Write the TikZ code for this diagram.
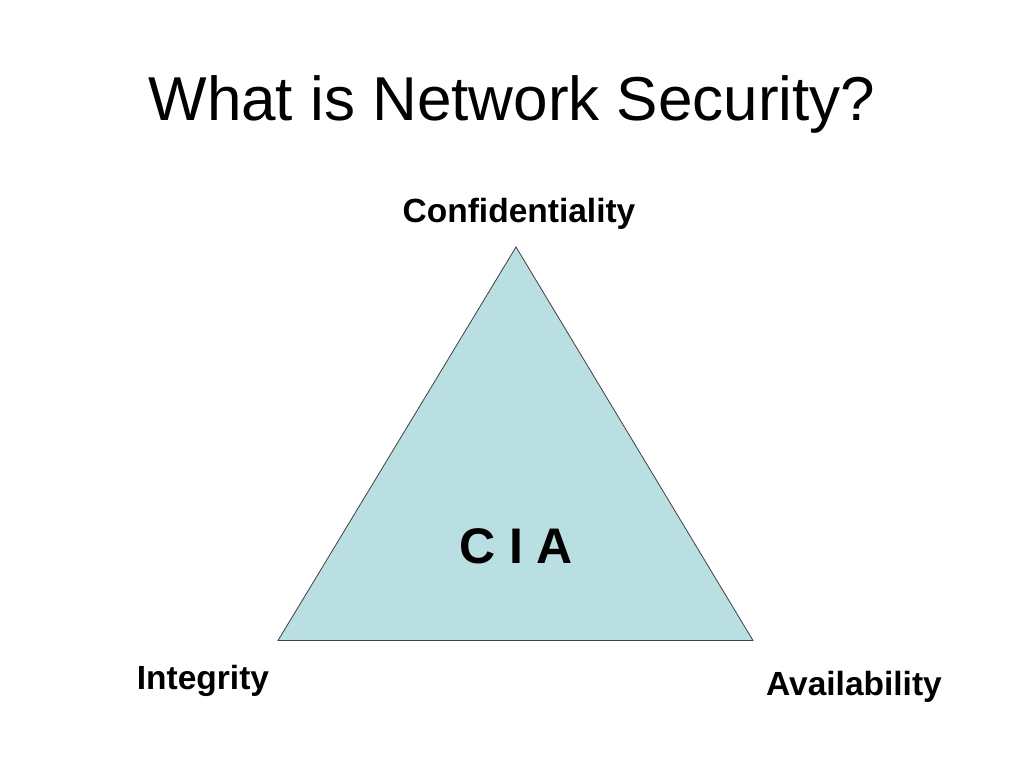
\documentclass[tikz,border=0pt]{standalone}
\usepackage{fontspec}
\setmainfont{Liberation Sans}
\definecolor{trifill}{HTML}{BADFE3}
\begin{document}
\begin{tikzpicture}[x=1pt,y=-1pt,
  lab/.style={font=\fontsize{33.5}{40}\selectfont\bfseries, anchor=base, inner sep=0pt}]
\useasboundingbox (0,0) rectangle (1024,768);
\fill[white] (0,0) rectangle (1024,768);
\node[anchor=base, inner sep=0pt, font=\fontsize{62}{70}\selectfont] (title) at (512,120) {What is Network Security?};
\coordinate (top) at (516,247);
\coordinate (bl) at (278,640.5);
\coordinate (br) at (753,640.5);
\draw[fill=trifill, draw=black!75, line width=0.8pt] (top) -- (bl) -- (br) -- cycle;
\node[anchor=base, inner sep=0pt, font=\fontsize{50}{60}\selectfont\bfseries] (cia) at (516,563) {C I A};
\node[lab] (conf) at (519,222) {Confidentiality};
\node[lab] (integ) at (203,689) {Integrity};
\node[lab] (avail) at (854,695) {Availability};
\end{tikzpicture}
\end{document}
